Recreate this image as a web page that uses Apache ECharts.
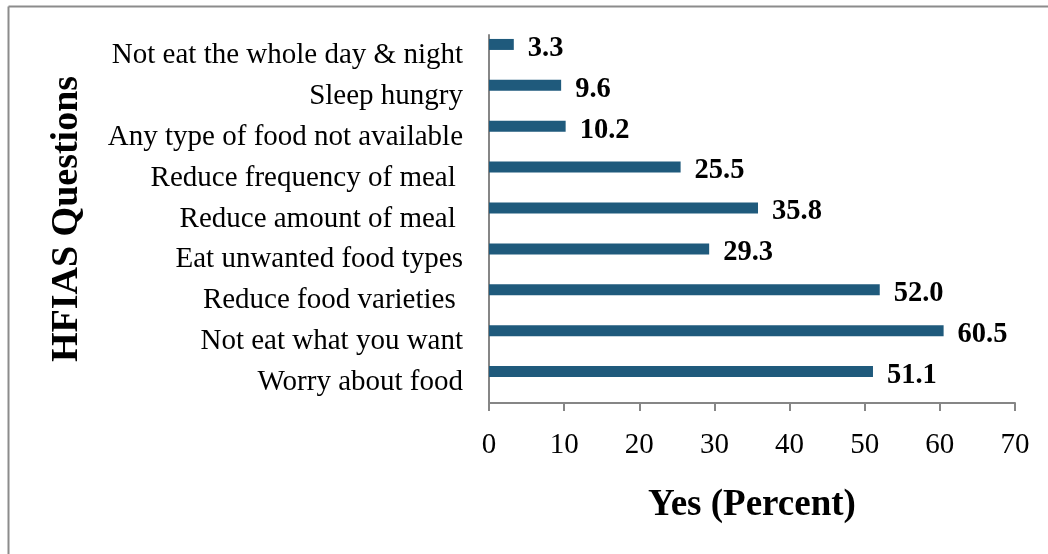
<!DOCTYPE html>
<html><head><meta charset="utf-8">
<script src="https://cdn.jsdelivr.net/npm/echarts@6/dist/echarts.min.js"></script>
<style>html,body{margin:0;padding:0;background:#fff}#c{width:1048px;height:554px}</style>
</head><body><div id="c"></div>
<script>
var categories = ["Worry about food","Not eat what you want","Reduce food varieties ","Eat unwanted food types","Reduce amount of meal ","Reduce frequency of meal ","Any type of food not available","Sleep hungry","Not eat the whole day & night"];
var values = [51.1,60.5,52.0,29.3,35.8,25.5,10.2,9.6,3.3];
var xTicks = [0,10,20,30,40,50,60,70];

var serif = '"Liberation Serif","Times New Roman",serif';
var chart = echarts.init(document.getElementById('c'));
chart.setOption({
  animation:false,
  graphic:[
    {type:'line',shape:{x1:8.5,y1:6.5,x2:1048,y2:6.5},style:{stroke:'#8c8c8c',lineWidth:2}},
    {type:'line',shape:{x1:8.5,y1:6.5,x2:8.5,y2:554},style:{stroke:'#8c8c8c',lineWidth:2}}
  ],
  grid:{left:489,right:33,top:35,bottom:151,containLabel:false},
  xAxis:{type:'value',min:xTicks[0],max:xTicks[xTicks.length-1],interval:10,
    name:'Yes (Percent)',nameLocation:'middle',nameGap:84,
    nameTextStyle:{fontFamily:serif,fontSize:37,fontWeight:'bold',color:'#000'},
    axisLine:{show:true,lineStyle:{color:'#868686',width:2}},
    axisTick:{show:true,length:8,lineStyle:{color:'#868686',width:2}},
    axisLabel:{fontFamily:serif,fontSize:29,color:'#000',margin:28},
    splitLine:{show:false}},
  yAxis:{type:'category',data:categories,
    name:'HFIAS Questions',nameLocation:'middle',nameGap:403,
    nameTextStyle:{fontFamily:serif,fontSize:38,fontWeight:'bold',color:'#000'},
    axisLine:{show:true,lineStyle:{color:'#868686',width:2}},
    axisTick:{show:false},
    axisLabel:{fontFamily:serif,fontSize:29,color:'#000',margin:26,padding:[5,0,0,0]}},
  series:[
    {type:'bar',name:'Yes',data:values,barWidth:11,barGap:'100%',
      itemStyle:{color:'#1f5a7c'},
      label:{show:true,position:'right',distance:14,offset:[0,4],formatter:function(p){return p.value.toFixed(1);},
        fontFamily:serif,fontSize:28.5,fontWeight:'bold',color:'#000'}},
    {type:'bar',name:'placeholder',data:[],barWidth:11,silent:true}
  ]
});
</script></body></html>
